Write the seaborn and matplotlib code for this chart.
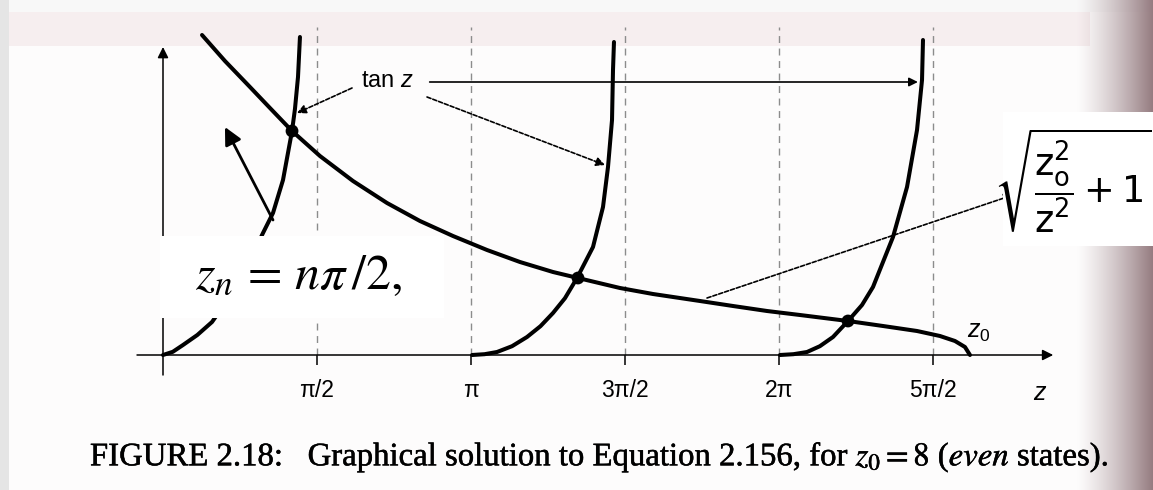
import numpy as np
import matplotlib
matplotlib.use("Agg")
import matplotlib.pyplot as plt
from matplotlib.patches import Rectangle
import matplotlib.patheffects as pe
import seaborn as sns

sns.set_theme(style="white")
plt.rcParams["font.family"] = ["Liberation Sans", "DejaVu Sans"]
plt.rcParams["mathtext.fontset"] = "custom"
plt.rcParams["mathtext.rm"] = "Liberation Sans"
plt.rcParams["mathtext.it"] = "Liberation Sans:italic"
plt.rcParams["text.color"] = "black"

# ---- data -------------------------------------------------------------
tick_pos = [np.pi / 2, np.pi, 3 * np.pi / 2, 2 * np.pi, 5 * np.pi / 2]
tick_labels = ["π/2", "π", "3π/2", "2π", "5π/2"]

# sqrt(z0^2/z^2 - 1) curve, z0 = 8
sqrt_z = [0.398, 0.632, 0.887, 1.091, 1.316, 1.601, 1.938, 2.285, 2.621, 2.958,
          3.305, 3.641, 3.978, 4.233, 4.661, 4.998, 5.477, 5.814, 6.161, 6.497,
          6.987, 7.344, 7.691, 7.925, 8.078, 8.180, 8.231]
sqrt_y = [8.00, 7.35, 6.70, 6.175, 5.60, 4.975, 4.35, 3.80, 3.35, 2.975,
          2.625, 2.325, 2.075, 1.925, 1.675, 1.525, 1.35, 1.225, 1.10, 1.00,
          0.85, 0.725, 0.60, 0.475, 0.35, 0.20, 0.0]

# tan z, three branches
tan1_z = [0.0, 0.10, 0.204, 0.35, 0.50, 0.765, 1.02, 1.122, 1.224, 1.316, 1.346, 1.377, 1.397]
tan1_y = [0.0, 0.08, 0.25, 0.50, 0.825, 1.75, 3.05, 3.55, 4.375, 5.60, 6.15, 6.95, 7.95]

tan2_z = [3.152, 3.28, 3.407, 3.56, 3.713, 3.85, 3.978, 4.10, 4.223, 4.386, 4.488, 4.539, 4.580, 4.590, 4.600]
tan2_y = [0.0, 0.02, 0.075, 0.22, 0.45, 0.72, 1.05, 1.42, 1.925, 2.70, 3.70, 4.70, 5.875, 7.125, 7.825]

tan3_z = [6.293, 6.43, 6.569, 6.70, 6.834, 6.987, 7.13, 7.242, 7.446, 7.589, 7.691, 7.742, 7.752]
tan3_y = [0.0, 0.02, 0.075, 0.22, 0.45, 0.85, 1.25, 1.70, 2.95, 4.20, 5.625, 6.875, 7.875]

# graphical solutions (intersections)
root_z = [1.316, 4.233, 6.987]
root_y = [5.60, 1.925, 0.85]

# ---- figure -----------------------------------------------------------
W, H = 1153, 490
fig = plt.figure(figsize=(W / 100, H / 100), dpi=100)
ax = fig.add_axes([0, 0, 1, 1])
X0, X1 = -1.6626, 10.098
Y0, Y1 = -3.375, 8.875
ax.set_xlim(X0, X1)
ax.set_ylim(Y0, Y1)

# scanned-page background
bg = np.ones((H, W, 3)) * np.array([0.995, 0.992, 0.992])
bg[:12, :] = [0.975, 0.975, 0.975]
bg[12:46, :1090] = [0.968, 0.935, 0.94]
bg[:, :9] = [0.90, 0.90, 0.90]
cols = np.arange(W)
t = np.clip((cols - 1075) / (W - 1075), 0, 1) ** 1.3
dark = np.array([0.58, 0.48, 0.50])
bg = bg * (1 - t[None, :, None]) + dark[None, None, :] * t[None, :, None]
ax.imshow(bg, extent=(X0, X1, Y0, Y1), aspect="auto", origin="upper", zorder=0)

# dashed asymptote guides
ax.vlines(tick_pos, 0, 8.2, colors="#8c8c8c", linestyles=(0, (5, 4)), lw=1.0, zorder=1)

# curves
curve_kw = dict(color="black", lw=2.9, sort=False, estimator=None, ax=ax, zorder=3)
sns.lineplot(x=sqrt_z, y=sqrt_y, **curve_kw)
sns.lineplot(x=tan1_z, y=tan1_y, **curve_kw)
sns.lineplot(x=tan2_z, y=tan2_y, **curve_kw)
sns.lineplot(x=tan3_z, y=tan3_y, **curve_kw)
sns.scatterplot(x=root_z, y=root_y, s=85, color="black", edgecolor="none", ax=ax, zorder=4)

# axes with arrows
for s in ax.spines.values():
    s.set_visible(False)
ax.spines["bottom"].set_position(("data", 0))
axis_kw = dict(arrowstyle="-|>", color="black", lw=1.1, mutation_scale=16, shrinkA=0, shrinkB=0)
ax.annotate("", xy=(9.08, 0), xytext=(-0.265, 0), arrowprops=axis_kw, zorder=2)
ax.annotate("", xy=(0, 7.7), xytext=(0, -0.5), arrowprops=axis_kw, zorder=2)

ax.set_xticks(tick_pos)
ax.set_xticklabels(tick_labels)
ax.set_yticks([])
ax.tick_params(axis="x", bottom=True, direction="out", length=7, width=1.1,
               color="black", pad=10, labelsize=16.5, labelcolor="black")
ax.grid(False)

ax.text(8.945, -0.95, r"$z$", fontsize=18, ha="center", va="center")
ax.text(8.32, 0.57, r"$z_0$", fontsize=18, ha="center", va="center")

# labels with pointers
ax.text(2.02, 6.84, r"tan $z$", fontsize=17, ha="left", va="center", zorder=5)
ptr_kw = dict(arrowstyle="-|>", color="black", lw=1.2, mutation_scale=13, shrinkA=0, shrinkB=0)
dash_kw = dict(ptr_kw, linestyle=(0, (2.5, 1.2)))
ax.annotate("", xy=(7.70, 6.825), xytext=(2.72, 6.825), arrowprops=ptr_kw, zorder=5)
ax.annotate("", xy=(1.367, 6.05), xytext=(1.928, 6.675), arrowprops=dash_kw, zorder=5)
ax.annotate("", xy=(4.508, 4.75), xytext=(2.693, 6.45), arrowprops=dash_kw, zorder=5)
ax.annotate("", xy=(8.67, 4.0), xytext=(5.549, 1.425), arrowprops=dash_kw, zorder=5)

# z_n label box
ax.add_patch(Rectangle((-0.03, 0.93), 2.9, 2.05, facecolor="white", edgecolor="none", zorder=6))
ax.text(0.33, 1.98, r"$z_n\, =\, n\pi\,/2,$", fontsize=36, ha="left", va="center",
        math_fontfamily="stix", zorder=7)
ax.annotate("", xy=(0.632, 5.7), xytext=(1.122, 3.375),
            arrowprops=dict(arrowstyle="-|>", color="black", lw=2.0, mutation_scale=26,
                            shrinkA=0, shrinkB=0), zorder=7)

# sqrt label box
ax.add_patch(Rectangle((8.57, 2.72), 1.6, 3.35, facecolor="white", edgecolor="none", zorder=6))
ax.text(10.075, 4.35, r"$\sqrt{\dfrac{\mathrm{z}_\mathrm{o}^{2}}{\mathrm{z}^{2}}+1}$", fontsize=26.5,
        ha="right", va="center", math_fontfamily="dejavusans", zorder=7)

# caption
ax.text(-0.745, -2.55,
        r"FIGURE 2.18:   Graphical solution to Equation 2.156, for $z_0 = 8$ ($\mathit{even}$ states).",
        fontsize=23.6, family=["Liberation Serif", "DejaVu Serif"], math_fontfamily="stix",
        ha="left", va="center", zorder=5,
        path_effects=[pe.withStroke(linewidth=0.35, foreground="black")])

fig.savefig("out.png", dpi=100)
